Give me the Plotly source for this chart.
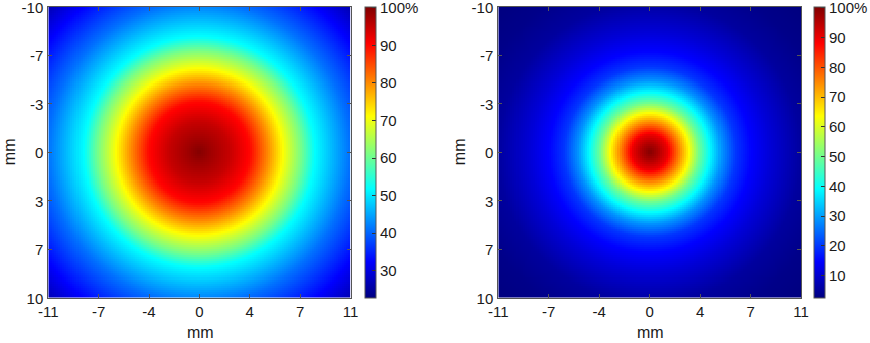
import numpy as np
import plotly.graph_objects as go

# Radial profiles (radius in mm along x, value in %)
left_radius = [0, 0.8, 2.2, 3.7, 5.0, 6.1, 7.4, 8.4, 9.8, 11.0, 13.1, 15.2]
left_value = [100, 98, 95, 90, 80, 71, 61, 52, 46, 41, 34, 27]
right_radius = [0, 0.6, 1.3, 2.0, 2.9, 3.6, 4.4, 5.2, 6.2, 7.3, 8.7, 11.0, 13.1, 15.2]
right_value = [100, 96, 90, 78, 63, 50, 39, 29, 20, 15, 11, 5.5, 3.5, 2.6]

x_tick_vals = [-11, -22/3, -11/3, 0, 11/3, 22/3, 11]
x_tick_text = ["-11", "-7", "-4", "0", "4", "7", "11"]
y_tick_vals = [-10, -20/3, -10/3, 0, 10/3, 20/3, 10]
y_tick_text = ["-10", "-7", "-3", "0", "3", "7", "10"]
left_cb_vals = [30, 40, 50, 60, 70, 80, 90, 100]
left_cb_text = ["30", "40", "50", "60", "70", "80", "90", "100%"]
right_cb_vals = [10, 20, 30, 40, 50, 60, 70, 80, 90, 100]
right_cb_text = ["10", "20", "30", "40", "50", "60", "70", "80", "90", "100%"]
axis_title = "mm"

jet = [[0.0, "rgb(0,0,128)"], [0.125, "rgb(0,0,255)"], [0.375, "rgb(0,255,255)"],
       [0.625, "rgb(255,255,0)"], [0.875, "rgb(255,0,0)"], [1.0, "rgb(128,0,0)"]]

nx, ny = 150, 144
dx, dy = 22 / nx, 20 / ny
xs = -11 + dx / 2 + dx * np.arange(nx)
ys = -10 + dy / 2 + dy * np.arange(ny)
X, Y = np.meshgrid(xs, ys)
R = np.sqrt(X ** 2 + (1.06 * Y) ** 2)
z_left = np.interp(R, left_radius, left_value)
z_right = np.interp(R, right_radius, right_value)

W, H = 870, 343
fam = "Liberation Sans, Arial, sans-serif"
font = dict(family=fam, size=15, color="#1a1a1a")

ytop = 1 - 6.7 / H
ybot = 1 - 297.7 / H
ymid = (ytop + ybot) / 2
plot_len = 291

def cbar(x_left, vals, text):
    return dict(x=x_left / W, xanchor="left", y=ymid, yanchor="middle",
                len=plot_len, lenmode="pixels", thickness=11, thicknessmode="pixels",
                outlinecolor="#555", outlinewidth=1, ticks="inside", ticklen=4,
                tickcolor="#333", tickvals=vals, ticktext=text,
                tickfont=font, xpad=0, ypad=0, ticklabeloverflow="allow")

fig = go.Figure()
fig.add_trace(go.Heatmap(
    x=xs, y=ys, z=z_left, colorscale=jet, zmin=22.8, zmax=100.3, zsmooth=False,
    xaxis="x", yaxis="y", colorbar=cbar(365, left_cb_vals, left_cb_text),
))
fig.add_trace(go.Heatmap(
    x=xs, y=ys, z=z_right, colorscale=jet, zmin=2.6, zmax=100.4, zsmooth=False,
    xaxis="x2", yaxis="y2", colorbar=cbar(814.3, right_cb_vals, right_cb_text),
))

axis_common = dict(showline=True, linecolor="#555", linewidth=1, mirror="ticks",
                   ticks="inside", ticklen=4, tickcolor="#555", showgrid=False,
                   zeroline=False, tickfont=font, ticklabeloverflow="allow",
                   automargin=False)
xa = dict(range=[-11, 11], tickvals=x_tick_vals, ticktext=x_tick_text, **axis_common)
ya = dict(range=[10, -10], tickvals=y_tick_vals, ticktext=y_tick_text,
          ticklabelshift=-1, ticklabelstandoff=1, **axis_common)

title_font = dict(family=fam, size=16, color="#1a1a1a")
annotations = [
    dict(text=axis_title, x=200 / W, y=1 - 332 / H, xref="paper", yref="paper",
         showarrow=False, font=title_font, xanchor="center", yanchor="middle"),
    dict(text=axis_title, x=650 / W, y=1 - 332 / H, xref="paper", yref="paper",
         showarrow=False, font=title_font, xanchor="center", yanchor="middle"),
    dict(text=axis_title, x=9 / W, y=ymid, xref="paper", yref="paper", textangle=-90,
         showarrow=False, font=title_font, xanchor="center", yanchor="middle"),
    dict(text=axis_title, x=459 / W, y=ymid, xref="paper", yref="paper", textangle=-90,
         showarrow=False, font=title_font, xanchor="center", yanchor="middle"),
]

fig.update_layout(
    width=W, height=H, margin=dict(l=0, r=0, t=0, b=0, autoexpand=False),
    paper_bgcolor="white", plot_bgcolor="white", font=font,
    xaxis=dict(domain=[48.3 / W, 350.5 / W], anchor="y", **xa),
    yaxis=dict(domain=[ybot, ytop], anchor="x", **ya),
    xaxis2=dict(domain=[498.3 / W, 801 / W], anchor="y2", **xa),
    yaxis2=dict(domain=[ybot, ytop], anchor="x2", **ya),
    annotations=annotations,
)

fig.write_html("out.html", config={"displayModeBar": False},
               post_script="document.body.style.margin='0';document.body.style.overflow='hidden';")
